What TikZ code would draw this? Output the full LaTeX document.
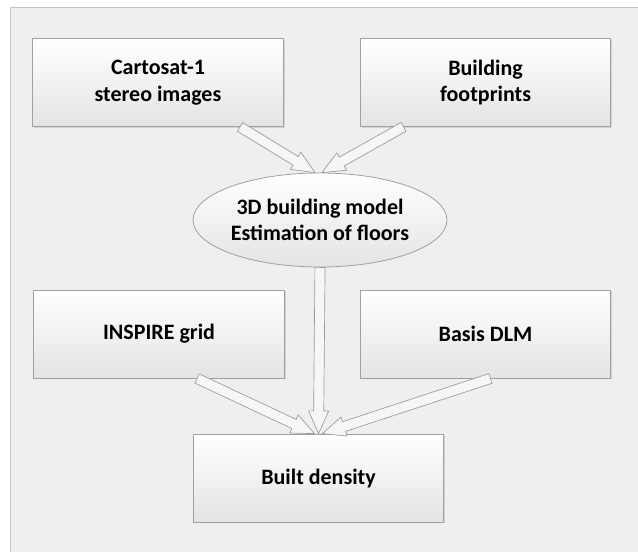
\documentclass[tikz,border=0pt]{standalone}
\usepackage{fontspec}
\setmainfont{Carlito}
\usetikzlibrary{calc,shapes.geometric,shadows}
\definecolor{bgfill}{HTML}{EFEFEF}
\definecolor{framec}{HTML}{C4C4C4}
\definecolor{boxline}{HTML}{A0A0A0}
\definecolor{boxbot}{HTML}{E4E4E4}
\definecolor{arrline}{HTML}{9A9A9A}
\definecolor{arrfill}{HTML}{F6F6F6}
\newcommand\BlkArrow[2]{%
  \path (#1) coordinate (bs) (#2) coordinate (bt);
  \coordinate (bh) at ($(bt)!17pt!(bs)$);
  \draw[arrowshape] ($(bs)!3.8pt!90:(bt)$) -- ($(bh)!3.8pt!90:(bt)$) -- ($(bh)!7.5pt!90:(bt)$) -- (bt)
    -- ($(bh)!7.5pt!-90:(bt)$) -- ($(bh)!3.8pt!-90:(bt)$) -- ($(bs)!3.8pt!-90:(bt)$) -- cycle;}
\tikzset{
  x=0.75pt, y=-0.75pt,
  boxnode/.style={rectangle, draw=boxline, line width=0.6pt, top color=white, bottom color=boxbot,
    minimum width=188pt, minimum height=66pt, inner sep=0pt, align=center,
    font=\fontsize{16.5}{20}\selectfont\bfseries,
    drop shadow={opacity=0.25, shadow xshift=1pt, shadow yshift=-1pt}},
  ellnode/.style={ellipse, draw=boxline, line width=0.6pt, top color=white, bottom color=boxbot,
    minimum width=190.5pt, minimum height=70.5pt, inner sep=0pt, align=center,
    font=\fontsize{16.5}{20}\selectfont\bfseries},
  arrowshape/.style={draw=arrline, fill=arrfill, line width=0.5pt, line join=miter}
}
\begin{document}
\begin{tikzpicture}
\useasboundingbox (0,0) rectangle (638,551);
\fill[white] (0,0) rectangle (638,551);
\fill[bgfill] (10,7) rectangle (640,553);
\draw[framec, line width=0.7pt] (640,7) -- (10,7) -- (10,553);

\node[boxnode] (cart) at (158,82.5) {Cartosat-1\\stereo images};
\node[boxnode] (foot) at (485.5,82.5) {Building\\footprints};
\node[ellnode] (model) at (320,220) {3D building model\\Estimation of floors};
\node[boxnode] (insp) at (159,334) {INSPIRE grid};
\node[boxnode] (dlm) at (485.5,334) {Basis DLM};
\node[boxnode] (dens) at (318.5,478) {Built density};

\coordinate (c1) at ($(cart.south)+(82,0)$);
\coordinate (c2) at ($(model.north)+(-5,0)$);
\coordinate (f1) at ($(foot.south)+(-82,0)$);
\coordinate (f2) at ($(model.north)+(2,0)$);
\coordinate (i1) at ($(insp.south)+(38,0)$);
\coordinate (i2) at ($(dens.north)+(-4,0)$);
\coordinate (d1) at ($(dlm.south)+(5,0)$);
\coordinate (d2) at ($(dens.north)+(4,0)$);

\BlkArrow{c1}{c2}
\BlkArrow{f1}{f2}
\BlkArrow{model.south}{dens.north}
\BlkArrow{i1}{i2}
\BlkArrow{d1}{d2}
\end{tikzpicture}
\end{document}
